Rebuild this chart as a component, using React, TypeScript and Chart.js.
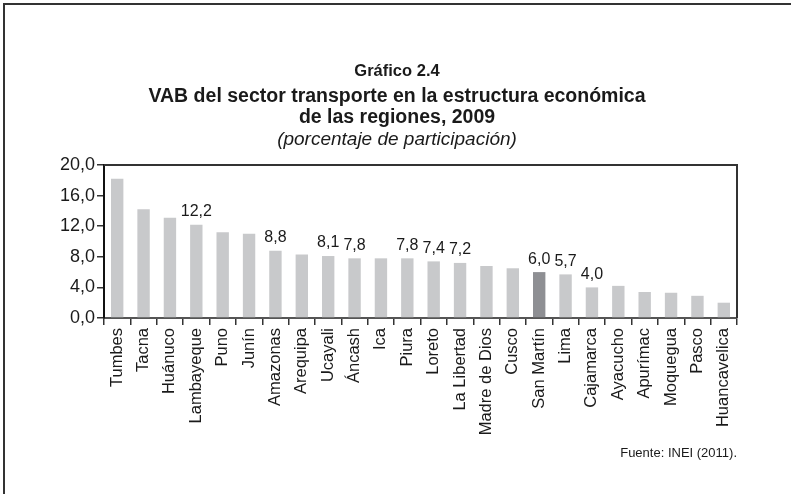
import React, { useEffect, useRef } from 'react';
import { Chart, registerables } from 'chart.js';

Chart.register(...registerables);

const categories = [
  'Tumbes', 'Tacna', 'Huánuco', 'Lambayeque', 'Puno', 'Junín', 'Amazonas', 'Arequipa',
  'Ucayali', 'Áncash', 'Ica', 'Piura', 'Loreto', 'La Libertad', 'Madre de Dios', 'Cusco',
  'San Martín', 'Lima', 'Cajamarca', 'Ayacucho', 'Apurímac', 'Moquegua', 'Pasco', 'Huancavelica',
];

const values = [
  18.2, 14.2, 13.1, 12.2, 11.2, 11.0, 8.8, 8.3,
  8.1, 7.8, 7.8, 7.8, 7.4, 7.2, 6.8, 6.5,
  6.0, 5.7, 4.0, 4.2, 3.4, 3.3, 2.9, 2.0,
];

const labeledRegions = [
  'Lambayeque', 'Amazonas', 'Ucayali', 'Áncash', 'Piura', 'Loreto', 'La Libertad',
  'San Martín', 'Lima', 'Cajamarca',
];

const highlightRegion = 'San Martín';

const yTicks = [0, 4, 8, 12, 16, 20];

const titleLines = [
  'Gráfico 2.4',
  'VAB del sector transporte en la estructura económica',
  'de las regiones, 2009',
  '(porcentaje de participación)',
];
const sourceNote = 'Fuente: INEI (2011).';

const fmt = (v: number) => v.toFixed(1).replace('.', ',');
const FONT = '"Liberation Sans", Arial, Helvetica, sans-serif';

const decorPlugin = {
  id: 'decor',
  beforeDraw(chart: any) {
    const ctx = chart.ctx;
    ctx.save();
    ctx.fillStyle = '#ffffff';
    ctx.fillRect(0, 0, chart.width, chart.height);
    ctx.restore();
  },
  afterDraw(chart: any) {
    const ctx = chart.ctx;
    const { left, top, right, bottom } = chart.chartArea;
    ctx.save();
    // outer frame
    ctx.strokeStyle = '#333333';
    ctx.lineWidth = 2;
    ctx.beginPath();
    ctx.moveTo(4, chart.height);
    ctx.lineTo(4, 4);
    ctx.lineTo(chart.width, 4);
    ctx.stroke();
    // plot frame top & right
    ctx.strokeStyle = '#333333';
    ctx.beginPath();
    ctx.moveTo(left, top);
    ctx.lineTo(right, top);
    ctx.lineTo(right, bottom);
    ctx.stroke();

    // titles
    ctx.fillStyle = '#1a1a1a';
    ctx.textAlign = 'center';
    ctx.textBaseline = 'middle';
    const cx = 397;
    ctx.font = `bold 16.5px ${FONT}`;
    ctx.fillText(titleLines[0], cx, 71);
    ctx.font = `bold 19.5px ${FONT}`;
    ctx.fillText(titleLines[1], cx, 97);
    ctx.fillText(titleLines[2], cx, 118);
    ctx.font = `italic 19px ${FONT}`;
    ctx.fillText(titleLines[3], cx, 140);

    // value labels
    const meta = chart.getDatasetMeta(0);
    ctx.font = `16px ${FONT}`;
    ctx.textBaseline = 'bottom';
    meta.data.forEach((bar: any, i: number) => {
      if (labeledRegions.includes(categories[i])) {
        ctx.fillText(fmt(values[i]), bar.x, bar.y - 5);
      }
    });

    // source
    ctx.font = `13px ${FONT}`;
    ctx.textAlign = 'right';
    ctx.textBaseline = 'middle';
    ctx.fillText(sourceNote, right, 453);
    ctx.restore();
  },
};

export default function App() {
  const ref = useRef<HTMLCanvasElement>(null);
  useEffect(() => {
    document.body.style.margin = '0';
    const canvas = ref.current;
    if (!canvas) return;
    const chart = new Chart(canvas, {
      type: 'bar',
      data: {
        labels: categories,
        datasets: [
          {
            data: values,
            backgroundColor: categories.map((c) => (c === highlightRegion ? '#8e8f93' : '#c8c9cb')),
            barPercentage: 0.47,
            categoryPercentage: 1,
          },
        ],
      },
      options: {
        responsive: false,
        animation: false,
        devicePixelRatio: 1,
        layout: { padding: { top: 165, right: 54, left: 0, bottom: 0 } },
        plugins: { legend: { display: false }, tooltip: { enabled: false }, title: { display: false } },
        scales: {
          x: {
            afterFit: (s: any) => {
              s.height = 176;
            },
            border: { display: true, color: '#555555', width: 2 },
            grid: {
              display: true,
              offset: true,
              drawOnChartArea: false,
              drawTicks: true,
              tickLength: 7,
              color: '#333333',
              lineWidth: 1.5,
            },
            ticks: {
              autoSkip: false,
              maxRotation: 90,
              minRotation: 90,
              padding: 3,
              color: '#1a1a1a',
              font: { family: FONT, size: 16.5 },
            },
          },
          y: {
            min: 0,
            max: 20,
            afterFit: (s: any) => {
              s.width = 104;
            },
            afterBuildTicks: (s: any) => {
              s.ticks = yTicks.map((v) => ({ value: v }));
            },
            border: { display: true, color: '#111111', width: 2 },
            grid: {
              display: true,
              drawOnChartArea: false,
              drawTicks: true,
              tickLength: 7,
              color: '#333333',
              lineWidth: 1.5,
            },
            ticks: {
              padding: 2,
              color: '#1a1a1a',
              font: { family: FONT, size: 18 },
              callback: (v: any) => fmt(Number(v)),
            },
          },
        },
      },
      plugins: [decorPlugin],
    });
    return () => chart.destroy();
  }, []);
  return <canvas ref={ref} width={791} height={494} style={{ display: 'block', width: 791, height: 494 }} />;
}
